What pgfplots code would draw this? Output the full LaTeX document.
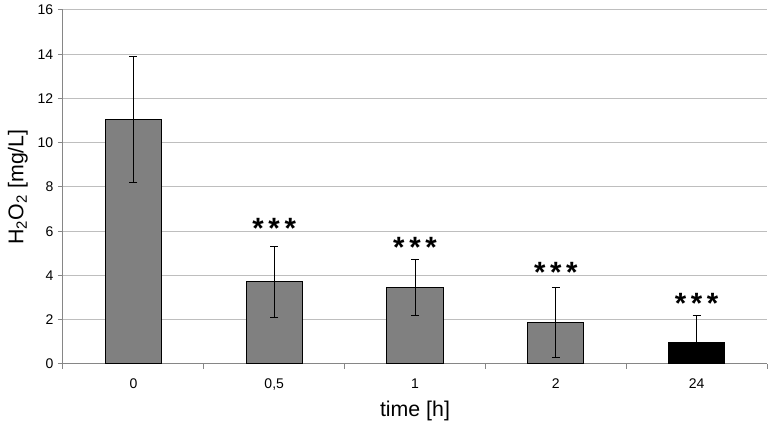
\documentclass[border=0pt]{standalone}
\usepackage{pgfplots}
\pgfplotsset{compat=1.18}
\usetikzlibrary{calc}
\usepackage{fontspec}
\setmainfont{Liberation Sans}
\definecolor{barg}{RGB}{128,128,128}
\definecolor{gridg}{RGB}{190,190,190}
\definecolor{axg}{RGB}{134,134,134}
\pgfplotstableread{
x y e
0 11.07 2.85
1 3.72 1.60
2 3.46 1.28
3 1.88 1.59
}\grayb
\pgfplotstableread{
x y e
4 0.96 1.25
}\blackb
\newcommand{\stars}{*\kern3.5pt*\kern3.5pt*}
\begin{document}
\begin{tikzpicture}
\begin{axis}[
  name=ax,
  scale only axis, width=528pt, height=265.5pt,
  xmin=-0.5, xmax=4.5, ymin=0, ymax=16,
  axis lines*=left,
  axis line style={draw=axg, line width=0.75pt},
  ytick={0,2,...,16},
  ymajorgrids, grid style={draw=gridg, line width=0.75pt},
  xtick={0,...,4}, xticklabels={0,{0,5},1,2,24},
  minor xtick={-0.5,0.5,...,4.5},
  major x tick style={draw=none},
  tick align=outside,
  major tick length=3.75pt, minor tick length=3.75pt,
  tick style={draw=axg, line width=0.75pt},
  /pgf/number format/assume math mode=true,
  ticklabel style={font=\fontsize{10.5}{12}\selectfont},
  xticklabel style={yshift=-4pt},
  xlabel={time [h]},
  xlabel style={at={(axis description cs:0.5,0)}, anchor=center, yshift=-35pt, font=\fontsize{16}{18}\selectfont},
  ylabel={H\textsubscript{2}O\textsubscript{2} [mg/L]},
  ylabel style={at={(axis description cs:-0.064,0.5)}, anchor=center, font=\fontsize{16}{18}\selectfont},
]
\addplot[ybar, bar width=0.4, fill=barg, draw=black, line width=0.75pt,
  error bars/.cd, y dir=both, y explicit,
  error bar style={black, line width=0.6pt},
  error mark options={rotate=90, mark size=3pt, black, line width=0.6pt}]
  table[x=x, y=y, y error=e] {\grayb};
\addplot[ybar, bar width=0.4, fill=black, draw=black, line width=0.75pt,
  error bars/.cd, y dir=plus, y explicit,
  error bar style={black, line width=0.6pt},
  error mark options={rotate=90, mark size=3pt, black, line width=0.6pt}]
  table[x=x, y=y, y error=e] {\blackb};
\begin{scope}[every node/.style={anchor=base, yshift=-11.5pt, inner sep=0pt, font=\fontsize{22}{24}\selectfont\bfseries}]
\node at (axis cs:1,6.38) {\stars};
\node at (axis cs:2,5.52) {\stars};
\node at (axis cs:3,4.39) {\stars};
\node at (axis cs:4,2.97) {\stars};
\end{scope}
\end{axis}
\pgfresetboundingbox
\path ($(ax.south west)+(-47.25pt,-46.5pt)$) rectangle ($(ax.north east)+(3pt,7.5pt)$);
\end{tikzpicture}
\end{document}
